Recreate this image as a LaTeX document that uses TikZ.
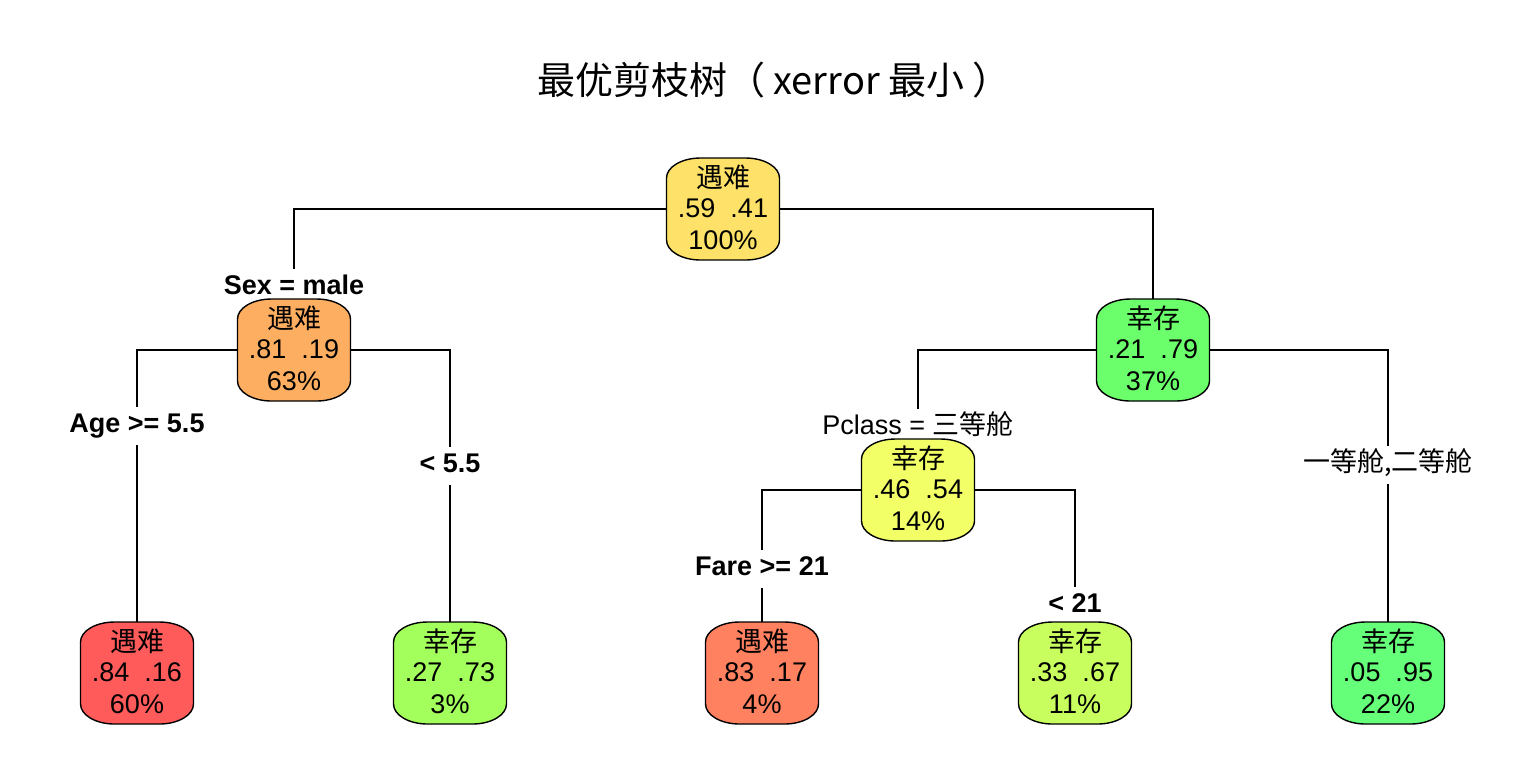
\documentclass[tikz,border=0pt]{standalone}
\usepackage{fontspec}
\setmainfont{Liberation Sans}
\newfontfamily\cjk{Noto Sans CJK SC}
\usetikzlibrary{calc}
\definecolor{cRoot}{RGB}{253,225,104}
\definecolor{cSex}{RGB}{253,174,97}
\definecolor{cRight}{RGB}{107,255,107}
\definecolor{cPcl}{RGB}{242,255,102}
\definecolor{cLa}{RGB}{255,91,91}
\definecolor{cLb}{RGB}{163,255,92}
\definecolor{cLc}{RGB}{255,129,96}
\definecolor{cLd}{RGB}{200,255,94}
\definecolor{cLe}{RGB}{102,255,122}
\tikzset{
  boxshape/.style={inner sep=0pt, minimum width=56.5pt, minimum height=51pt},
  boxtxt/.style={inner sep=0pt, align=center, font=\fontsize{13.5}{16}\selectfont},
  lbl/.style={font=\fontsize{13.5}{16}\selectfont\bfseries, inner sep=3pt, text height=9.7pt, text depth=2.8pt},
  lblc/.style={font=\cjk\fontsize{13.5}{16}\selectfont, inner sep=3pt, text height=9.7pt, text depth=2.8pt},
  conn/.style={line width=0.7pt, draw=black},
  boxline/.style={line width=0.7pt, draw=black},
}
\newcommand\treenode[5]{%
  \path[boxline, fill=#4] (#2,#3) ++(-28.25pt,15.5pt) -- ++(0,-31pt)
     arc[start angle=180,end angle=270,x radius=17pt,y radius=10pt] -- ++(22.5pt,0)
     arc[start angle=270,end angle=360,x radius=17pt,y radius=10pt] -- ++(0,31pt)
     arc[start angle=0,end angle=90,x radius=17pt,y radius=10pt] -- ++(-22.5pt,0)
     arc[start angle=90,end angle=180,x radius=17pt,y radius=10pt] -- cycle;
  \node[boxshape] (#1) at (#2,#3) {};
  \node[boxtxt, yshift=-1.5pt] (#1t) at (#1.center) {\begin{tabular}{@{}c@{}}#5\end{tabular}};
}
\begin{document}
\begin{tikzpicture}[x=0.5pt,y=-0.5pt]
\useasboundingbox[fill=white] (0,0) rectangle (1536,768);
\node[font=\cjk\fontsize{19}{20}\selectfont] (title) at (774,80) {最优剪枝树（ xerror 最小 ）};
% nodes
\def\arraystretch{1}
\treenode{root}{723}{209}{cRoot}{{\cjk 遇难}\\[-0.8pt].59\ \ .41\\100\%}
\treenode{nL}{294}{350}{cSex}{{\cjk 遇难}\\[-0.8pt].81\ \ .19\\63\%}
\treenode{nR}{1153}{350}{cRight}{{\cjk 幸存}\\[-0.8pt].21\ \ .79\\37\%}
\treenode{nP}{918}{490}{cPcl}{{\cjk 幸存}\\[-0.8pt].46\ \ .54\\14\%}
\treenode{lfA}{137}{673}{cLa}{{\cjk 遇难}\\[-0.8pt].84\ \ .16\\60\%}
\treenode{lfB}{450}{673}{cLb}{{\cjk 幸存}\\[-0.8pt].27\ \ .73\\3\%}
\treenode{lfC}{762}{673}{cLc}{{\cjk 遇难}\\[-0.8pt].83\ \ .17\\4\%}
\treenode{lfD}{1075}{673}{cLd}{{\cjk 幸存}\\[-0.8pt].33\ \ .67\\11\%}
\treenode{lfE}{1388}{673}{cLe}{{\cjk 幸存}\\[-0.8pt].05\ \ .95\\22\%}
% labels
\node[lbl] (lSex) at (294,288) {Sex = male};
\node[lbl] (lAge) at (137,426) {Age >= 5.5};
\node[lbl] (l55) at (450,466) {< 5.5};
\node[lblc] (lPc) at (918,428) {{\fontspec{Liberation Sans}Pclass = }三等舱};
\node[lblc] (l12) at (1388,465) {一等舱,二等舱};
\node[lbl] (lFare) at (762,569) {Fare >= 21};
\node[lbl] (l21) at (1075,606) {< 21};
% connectors
\draw[conn] (root.west) -| (lSex.north);
\draw[conn] (root.east) -| (nR.north);
\draw[conn] (nL.west) -| (lAge.north);
\draw[conn] (lAge.south) -- (lfA.north);
\draw[conn] (nL.east) -| (l55.north);
\draw[conn] (l55.south) -- (lfB.north);
\draw[conn] (nR.west) -| (lPc.north);
\draw[conn] (nR.east) -| (l12.north);
\draw[conn] (l12.south) -- (lfE.north);
\draw[conn] (nP.west) -| (lFare.north);
\draw[conn] (lFare.south) -- (lfC.north);
\draw[conn] (nP.east) -| (l21.north);
\end{tikzpicture}
\end{document}
